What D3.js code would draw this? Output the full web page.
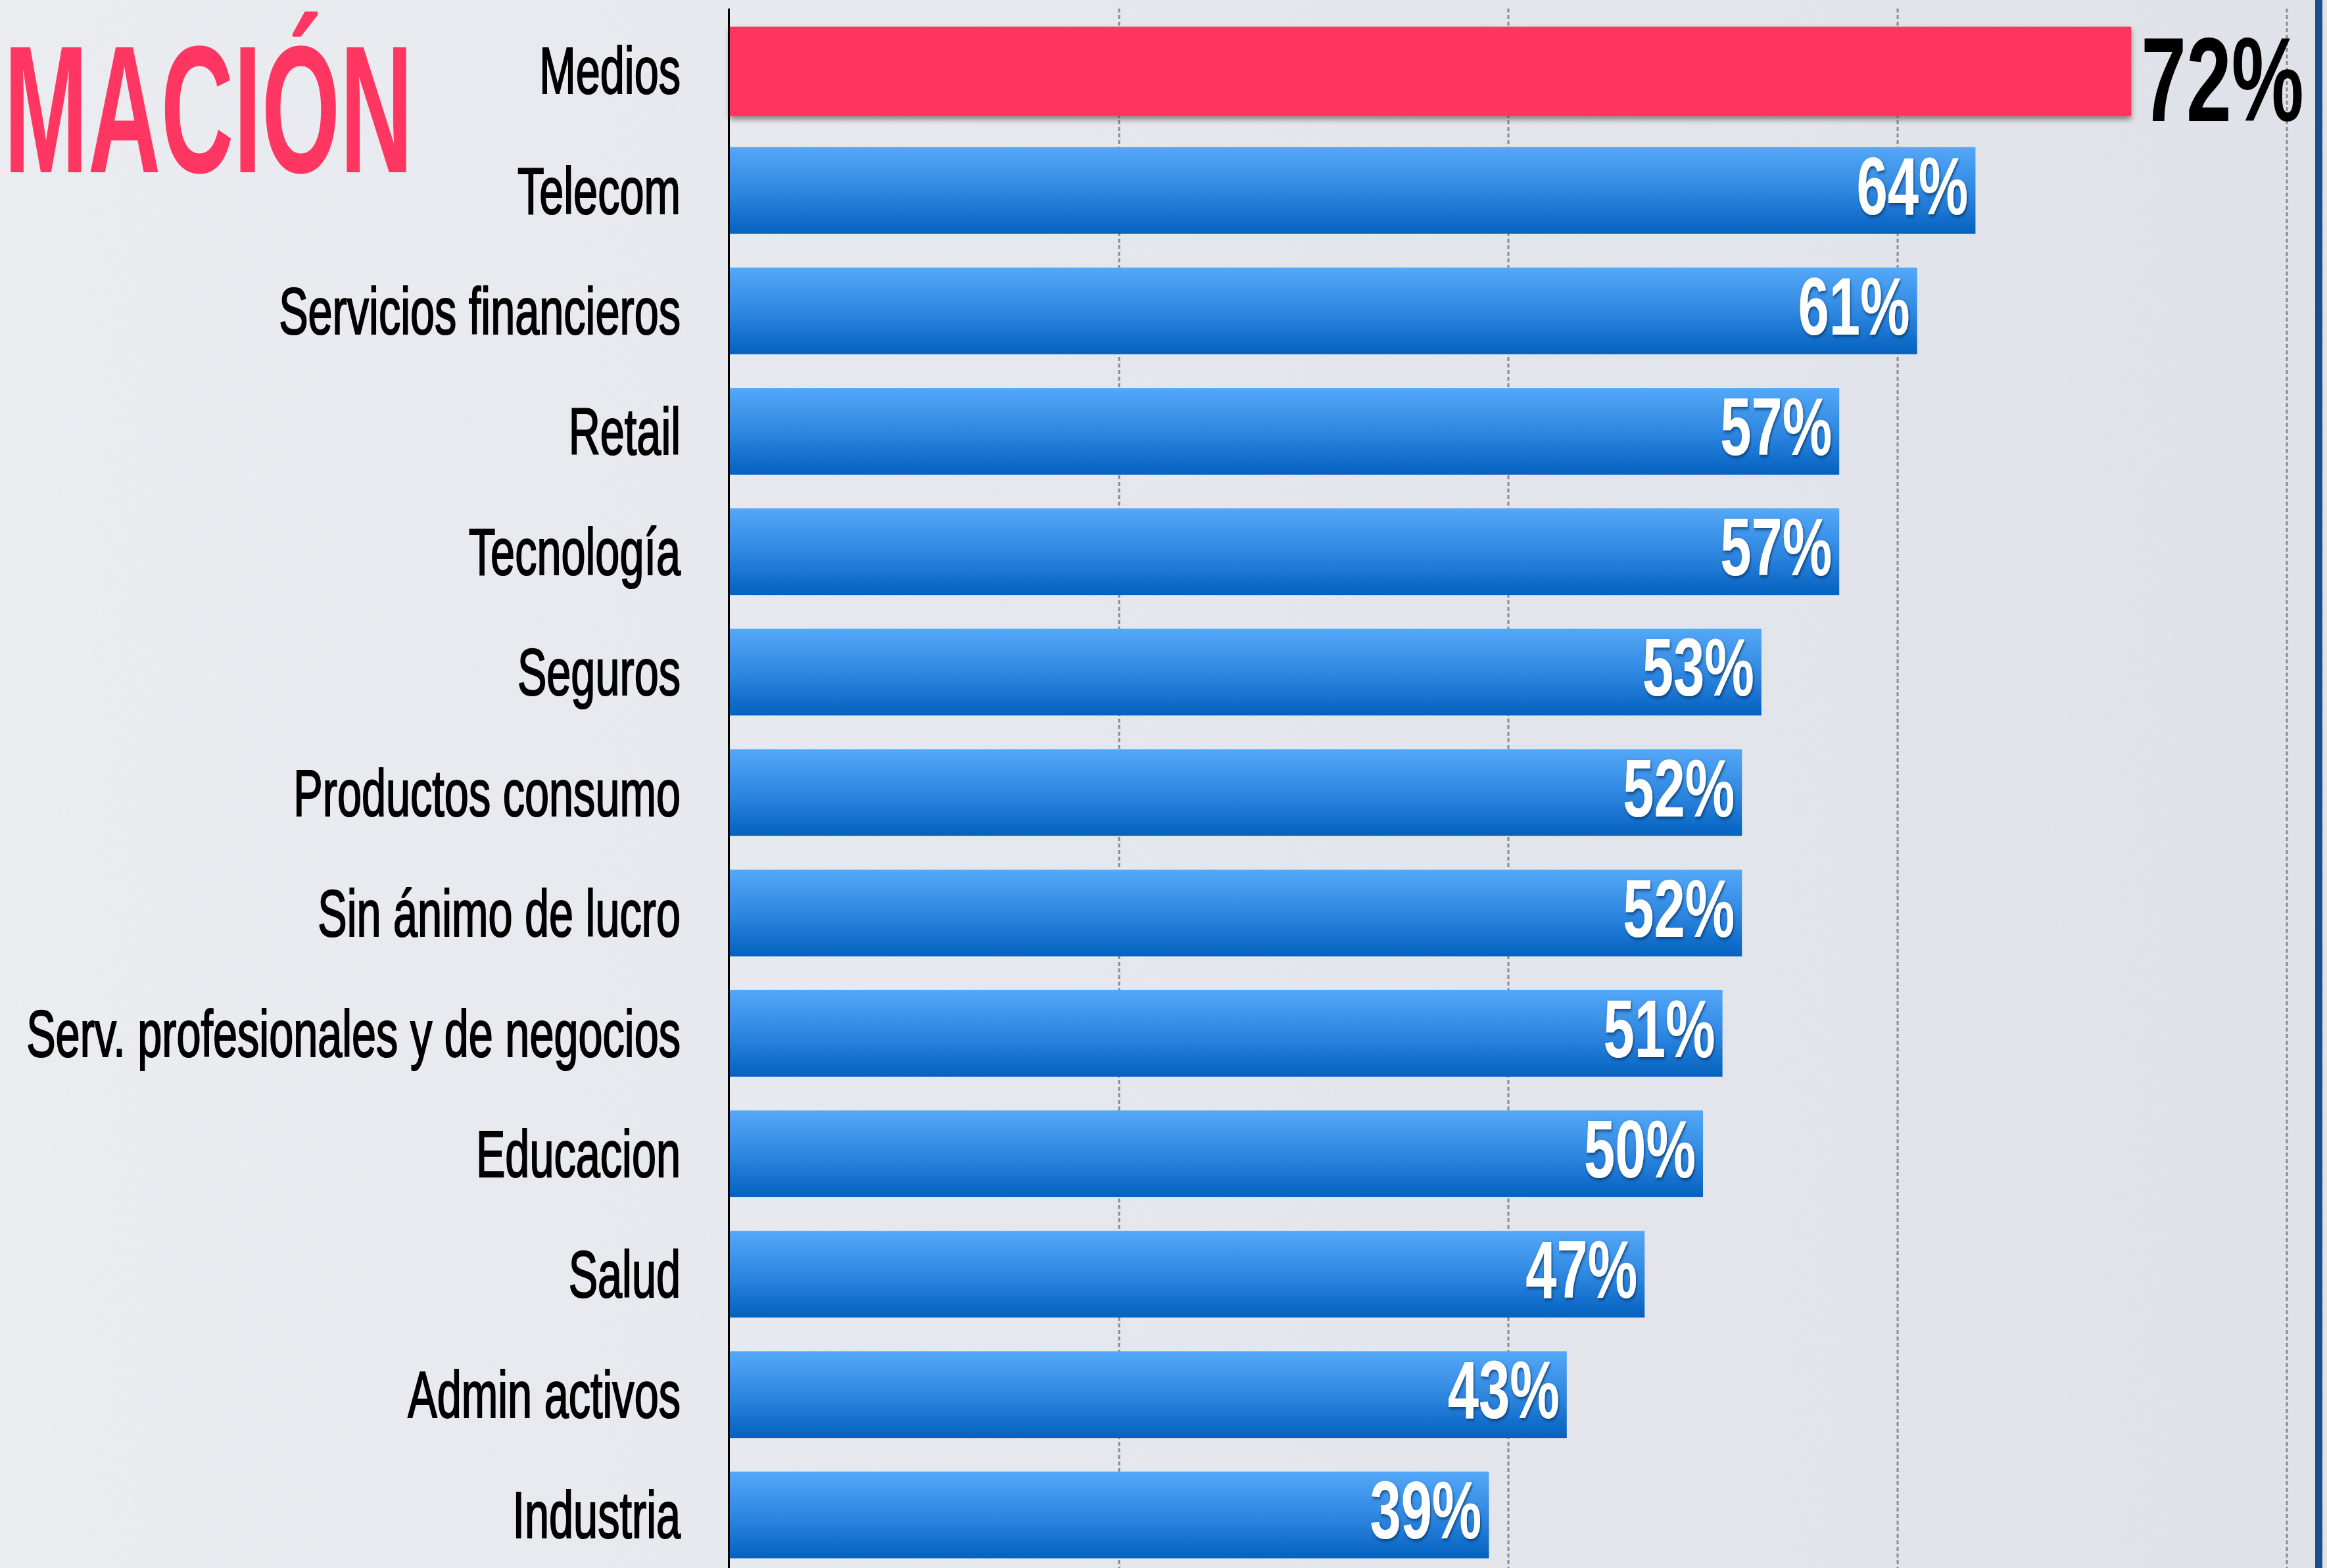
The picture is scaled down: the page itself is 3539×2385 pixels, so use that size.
<!DOCTYPE html>
<html>
<head>
<meta charset="utf-8">
<script src="https://cdn.jsdelivr.net/npm/d3@7"></script>
<style>
  body { margin: 0; background: #e6e9ef; overflow: hidden; }
  svg { display: block; }
</style>
</head>
<body>
<div id="chart"></div>
<script>
// Chart data
var categories = ["Medios", "Telecom", "Servicios financieros", "Retail", "Tecnología", "Seguros",
  "Productos consumo", "Sin ánimo de lucro", "Serv. profesionales y de negocios", "Educacion",
  "Salud", "Admin activos", "Industria"];
var values = [72, 64, 61, 57, 57, 53, 52, 52, 51, 50, 47, 43, 39];
var gridTicks = [20, 40, 60, 80];
var highlight = "Medios";
var titleText = "MACIÓN";

var rows = categories.map(function(c, i) { return {name: c, value: values[i]}; });

var width = 3539, height = 2385;

var svg = d3.select("#chart")
    .append("svg")
        .attr("width", width)
        .attr("height", height);

var defs = svg.append("defs");

// blue bar gradient
var grad = defs.append("linearGradient")
    .attr("id", "blueGrad")
    .attr("x1", 0).attr("y1", 0).attr("x2", 0).attr("y2", 1);
grad.append("stop").attr("offset", "0%").attr("stop-color", "#54a8f8");
grad.append("stop").attr("offset", "55%").attr("stop-color", "#2b84de");
grad.append("stop").attr("offset", "100%").attr("stop-color", "#0461bf");

// background shading
var bgGrad = defs.append("linearGradient")
    .attr("id", "bgGrad")
    .attr("x1", 0).attr("y1", 0).attr("x2", 1).attr("y2", 0);
bgGrad.append("stop").attr("offset", "0%").attr("stop-color", "#edeff3");
bgGrad.append("stop").attr("offset", "100%").attr("stop-color", "#e1e4ea");

// paper noise
var noise = defs.append("filter").attr("id", "noise")
    .attr("x", 0).attr("y", 0).attr("width", "100%").attr("height", "100%");
noise.append("feTurbulence").attr("type", "fractalNoise").attr("baseFrequency", 0.6)
    .attr("numOctaves", 2).attr("result", "t");
noise.append("feColorMatrix").attr("type", "matrix")
    .attr("values", "0 0 0 0 0.5  0 0 0 0 0.52  0 0 0 0 0.58  0 0 0 0.12 0");

// shadows
var shadow = defs.append("filter").attr("id", "barShadow")
    .attr("x", "-5%").attr("y", "-20%").attr("width", "110%").attr("height", "150%");
shadow.append("feDropShadow").attr("dx", 0).attr("dy", 5).attr("stdDeviation", 4)
    .attr("flood-color", "#000").attr("flood-opacity", 0.45);

var textShadow = defs.append("filter").attr("id", "textShadow")
    .attr("x", "-10%").attr("y", "-10%").attr("width", "130%").attr("height", "130%");
textShadow.append("feDropShadow").attr("dx", 2).attr("dy", 3).attr("stdDeviation", 2.5)
    .attr("flood-color", "#062a55").attr("flood-opacity", 0.7);

svg.append("rect").attr("width", width).attr("height", height).attr("fill", "url(#bgGrad)");
svg.append("rect").attr("width", width).attr("height", height).attr("filter", "url(#noise)");

// Scales
var xScale = d3.scaleLinear()
    .domain([0, 80])
    .range([1110, 3478]);

var yScale = d3.scaleBand()
    .domain(categories)
    .range([15, 2396])
    .paddingInner(0.28)
    .paddingOuter(0.14);

// Dashed grid lines
svg.append("g")
    .selectAll("line")
    .data(gridTicks)
    .enter()
    .append("line")
        .attr("x1", function(d) { return xScale(d); })
        .attr("x2", function(d) { return xScale(d); })
        .attr("y1", 13)
        .attr("y2", height)
        .attr("stroke", "#8c8c8c")
        .attr("stroke-width", 3)
        .attr("stroke-dasharray", "6 4");

// right frame line
svg.append("rect")
    .attr("x", 3521).attr("y", 0)
    .attr("width", 11).attr("height", height)
    .attr("fill", "#1b4f89");

// Bars (highlighted one sits a touch taller)
svg.append("g")
    .selectAll("rect")
    .data(rows)
    .enter()
    .append("rect")
        .attr("x", xScale(0))
        .attr("y", function(d) { return yScale(d.name); })
        .attr("width", function(d) { return xScale(d.value) - xScale(0); })
        .attr("height", function(d) { return d.name === highlight ? yScale.bandwidth() + 4 : yScale.bandwidth(); })
        .attr("fill", function(d) { return d.name === highlight ? "#ff3661" : "url(#blueGrad)"; })
        .attr("filter", function(d) { return d.name === highlight ? "url(#barShadow)" : null; });

// Axis line
svg.append("line")
    .attr("x1", 1108.5).attr("x2", 1108.5)
    .attr("y1", 13).attr("y2", height)
    .attr("stroke", "#000")
    .attr("stroke-width", 3);

// Category labels, squeezed to a condensed look
var labels = svg.append("g")
    .selectAll("text")
    .data(rows)
    .enter()
    .append("text")
        .text(function(d) { return d.name; })
        .attr("font-family", "'Liberation Sans Narrow', 'Arial Narrow', 'Liberation Sans', sans-serif")
        .attr("font-size", "100px")
        .attr("fill", "#000")
        .attr("stroke", "#000")
        .attr("stroke-width", 2.2)
        .attr("text-anchor", "end");

var longest = d3.max(labels.nodes(), function(n) { return n.getComputedTextLength(); });
var labelScale = 995 / longest;
labels.attr("transform", function(d) {
    return "translate(1035," + (yScale(d.name) + 101) + ") scale(" + labelScale + ",1)";
});

// Value labels
var valueText = svg.append("g")
    .selectAll("text")
    .data(rows)
    .enter()
    .append("text")
        .text(function(d) { return d.value + "%"; })
        .attr("font-family", "'Liberation Sans Narrow', 'Arial Narrow', 'Liberation Sans', sans-serif")
        .attr("font-weight", "bold")
        .attr("font-size", function(d) { return d.name === highlight ? "182px" : "125px"; })
        .attr("fill", function(d) { return d.name === highlight ? "#000" : "#fff"; })
        .attr("text-anchor", function(d) { return d.name === highlight ? "start" : "end"; })
        .attr("filter", function(d) { return d.name === highlight ? null : "url(#textShadow)"; });

var sample = valueText.filter(function(d) { return d.name !== highlight; }).node();
var valueScale = 170 / sample.getComputedTextLength();
valueText.attr("transform", function(d) {
    if (d.name === highlight) {
        return "translate(" + (xScale(d.value) + 15) + "," + (yScale(d.name) + 143) + ") scale(" + valueScale + ",1)";
    }
    return "translate(" + (xScale(d.value) - 11) + "," + (yScale(d.name) + 102) + ") scale(" + valueScale + ",1)";
});

// Title at the left edge
var title = svg.append("text")
    .text(titleText)
    .attr("font-family", "'Liberation Sans Narrow', 'Arial Narrow', 'Liberation Sans', sans-serif")
    .attr("font-weight", "bold")
    .attr("font-size", "276px")
    .attr("fill", "#ff3661")
    .attr("text-anchor", "end");
var titleScale = 622 / title.node().getComputedTextLength();
title.attr("transform", "translate(628,262) scale(" + titleScale + ",1)");
</script>
</body>
</html>
